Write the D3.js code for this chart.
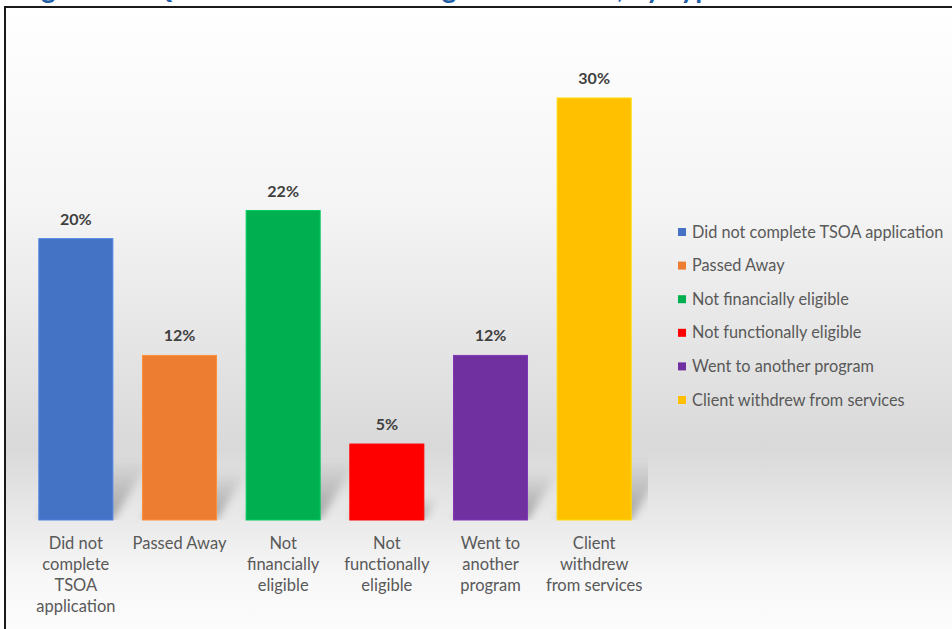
<!DOCTYPE html>
<html>
<head>
<meta charset="utf-8">
<script src="https://d3js.org/d3.v7.min.js"></script>
<style>
	body { margin: 0; background: #ffffff; }
	svg { display: block; }
</style>
</head>
<body>
<div id="my_dataviz"></div>
<script>
// data
const categories = [
	"Did not complete TSOA application",
	"Passed Away",
	"Not financially eligible",
	"Not functionally eligible",
	"Went to another program",
	"Client withdrew from services",
];
const shares = [0.2, 0.117, 0.22, 0.054, 0.117, 0.3];
const axisLines = [
	["Did not", "complete", "TSOA", "application"],
	["Passed Away"],
	["Not", "financially", "eligible"],
	["Not", "functionally", "eligible"],
	["Went to", "another", "program"],
	["Client", "withdrew", "from services"],
];
const barColors = ["#4472c4", "#ed7d31", "#00b050", "#ff0000", "#7030a0", "#ffc000"];

const W = 952, H = 629;
const baseY = 520;
const font = "Lato, 'Open Sans', sans-serif";

const svg = d3
	.select("#my_dataviz")
	.append("svg")
	.attr("width", W)
	.attr("height", H);

const defs = svg.append("defs");

// background gradient of the chart box
const bg = defs.append("linearGradient")
	.attr("id", "bgGrad")
	.attr("x1", 0).attr("y1", 0).attr("x2", 0).attr("y2", 1);
bg.append("stop").attr("offset", "0%").attr("stop-color", "#ffffff");
bg.append("stop").attr("offset", "30%").attr("stop-color", "#f5f5f5");
bg.append("stop").attr("offset", "68%").attr("stop-color", "#d9d9d9");
bg.append("stop").attr("offset", "88%").attr("stop-color", "#f7f7f7");
bg.append("stop").attr("offset", "100%").attr("stop-color", "#ffffff");

// shadow fade + blur
const sg = defs.append("linearGradient")
	.attr("id", "shadowGrad")
	.attr("x1", 0).attr("y1", 1).attr("x2", 0).attr("y2", 0);
sg.append("stop").attr("offset", "0%").attr("stop-color", "#000").attr("stop-opacity", 0.32);
sg.append("stop").attr("offset", "100%").attr("stop-color", "#000").attr("stop-opacity", 0.0);
defs.append("filter").attr("id", "blur")
	.attr("x", "-50%").attr("y", "-50%").attr("width", "200%").attr("height", "200%")
	.append("feGaussianBlur").attr("stdDeviation", 4);
defs.append("clipPath").attr("id", "plotClip")
	.append("rect").attr("x", 20).attr("y", 20).attr("width", 628).attr("height", baseY - 20);

// title, cut off by the top of the crop: only descenders peek through
svg.append("text")
	.attr("x", 18)
	.attr("y", -2)
	.attr("fill", "#1f5fa8")
	.style("font-family", font)
	.style("font-weight", "bold")
	.style("font-size", "28px")
	.text("Figure 10: Q4 Reasons for Discharge from TSOA, by Type");

// chart box (covers everything of the title below its top edge)
svg.append("rect")
	.attr("x", 5)
	.attr("y", 7)
	.attr("width", W + 10)
	.attr("height", H + 20)
	.attr("fill", "url(#bgGrad)")
	.attr("stroke", "#1a1a1a")
	.attr("stroke-width", 2);

const x = d3.scaleBand()
	.domain(categories)
	.range([24, 646])
	.paddingInner(0.286)
	.paddingOuter(0.143);

const y = d3.scaleLinear()
	.domain([0, 0.3])
	.range([baseY, 98]);

const fmt = (v) => Math.round(v * 100) + "%";

// bar shadows
const shadowG = svg.append("g").attr("clip-path", "url(#plotClip)");
shadowG.selectAll("polygon")
	.data(categories)
	.join("polygon")
	.attr("points", (d, i) => {
		const x0 = x(d), x1 = x(d) + x.bandwidth();
		const h = baseY - y(shares[i]);
		const sh = Math.min(62, h * 0.3);
		const dx = sh * 0.62;
		return [[x0, baseY], [x1, baseY], [x1 + dx, baseY - sh], [x0 + dx, baseY - sh]].join(" ");
	})
	.attr("fill", "url(#shadowGrad)")
	.attr("filter", "url(#blur)");

// bars
svg.append("g")
	.selectAll("rect")
	.data(categories)
	.join("rect")
	.attr("x", (d) => x(d))
	.attr("y", (d, i) => y(shares[i]))
	.attr("width", x.bandwidth())
	.attr("height", (d, i) => baseY - y(shares[i]))
	.attr("fill", (d, i) => barColors[i])
	.attr("stroke", (d, i) => d3.color(barColors[i]).brighter(0.4))
	.attr("stroke-width", 1);

// value labels
svg.append("g")
	.selectAll("text")
	.data(categories)
	.join("text")
	.attr("x", (d) => x(d) + x.bandwidth() / 2)
	.attr("y", (d, i) => y(shares[i]) - 14)
	.attr("text-anchor", "middle")
	.attr("fill", "#404040")
	.style("font-family", font)
	.style("font-weight", "bold")
	.style("font-size", "16px")
	.text((d, i) => fmt(shares[i]));

// category labels under the bars
const catG = svg.append("g")
	.selectAll("text")
	.data(categories)
	.join("text")
	.attr("x", (d) => x(d) + x.bandwidth() / 2)
	.attr("y", 549)
	.attr("text-anchor", "middle")
	.attr("fill", "#595959")
	.style("font-family", font)
	.style("font-size", "16.5px");
catG.selectAll("tspan")
	.data((d, i) => axisLines[i])
	.join("tspan")
	.attr("x", function () { return d3.select(this.parentNode).attr("x"); })
	.attr("dy", (d, j) => (j === 0 ? 0 : 21))
	.text((d) => d);

// legend
const legend = svg.append("g")
	.selectAll("g")
	.data(categories)
	.join("g")
	.attr("transform", (d, i) => `translate(678, ${232 + i * 33.6})`);
legend.append("rect")
	.attr("x", 0)
	.attr("y", -4)
	.attr("width", 8)
	.attr("height", 8)
	.attr("fill", (d, i) => barColors[i]);
legend.append("text")
	.attr("x", 14)
	.attr("y", 5.5)
	.attr("fill", "#595959")
	.style("font-family", font)
	.style("font-size", "16.3px")
	.text((d) => d);
</script>
</body>
</html>
